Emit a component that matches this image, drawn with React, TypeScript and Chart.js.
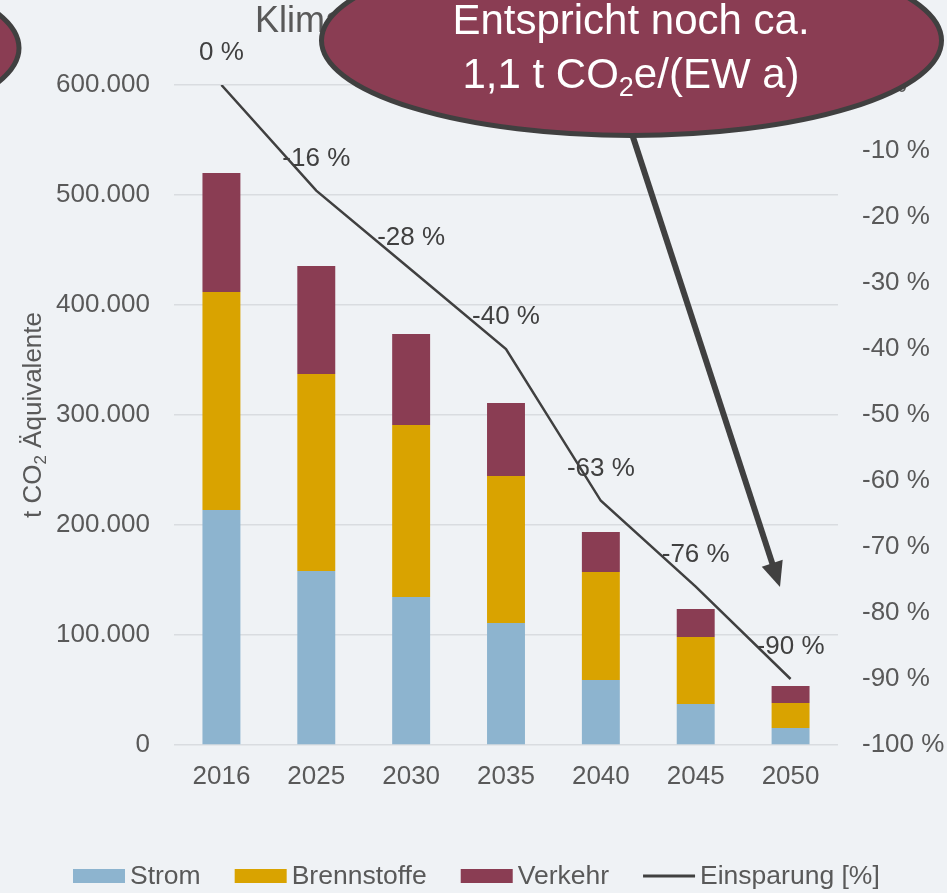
import React, { useEffect, useRef } from "react";
import { Chart, registerables } from "chart.js";

Chart.register(...registerables);

// ---- data ----
const categories = ["2016", "2025", "2030", "2035", "2040", "2045", "2050"];
const strom = [213600, 158200, 134500, 110900, 59100, 37300, 15500];
const brennstoffe = [198200, 179100, 156400, 133600, 98200, 60900, 22700];
const verkehr = [108200, 98200, 82700, 66400, 36300, 25400, 15400];
const einsparung = [0, -16, -28, -40, -63, -76, -90];
const leftAxis = { min: 0, max: 600000, step: 100000 };
const rightAxis = { min: -100, max: 0, step: 10 };
const titleText = "Klimaschutzszenario – Emissionen";
const calloutLine1 = "Entspricht noch ca.";
const calloutLine2 = [
  { t: "1,1 t CO" },
  { t: "2", sub: true },
  { t: "e/(EW a)" },
];
const yTitle = [{ t: "t CO" }, { t: "2", sub: true }, { t: " Äquivalente" }];
const legendNames = ["Strom", "Brennstoffe", "Verkehr", "Einsparung [%]"];

// ---- styles ----
const FONT = '"Liberation Sans", Arial, sans-serif';
const BG = "#EFF2F5";
const C_STROM = "#8DB4CF";
const C_BRENN = "#D9A300";
const C_VERK = "#8A3D53";
const C_LINE = "#404040";
const C_TEXT = "#595959";

type Part = { t: string; sub?: boolean };

function drawRich(
  ctx: CanvasRenderingContext2D,
  parts: Part[],
  x: number,
  y: number,
  size: number,
  align: "left" | "center"
) {
  const subSize = Math.round(size * 0.65);
  const widths = parts.map((p) => {
    ctx.font = `${p.sub ? subSize : size}px ${FONT}`;
    return ctx.measureText(p.t).width;
  });
  const total = widths.reduce((a, b) => a + b, 0);
  let cx = align === "center" ? x - total / 2 : x;
  ctx.textAlign = "left";
  ctx.textBaseline = "alphabetic";
  parts.forEach((p, i) => {
    ctx.font = `${p.sub ? subSize : size}px ${FONT}`;
    ctx.fillText(p.t, cx, p.sub ? y + size * 0.2 : y);
    cx += widths[i];
  });
}

function fmtThousands(v: number) {
  return String(v).replace(/\B(?=(\d{3})+(?!\d))/g, ".");
}

const decorPlugin = {
  id: "decor",
  beforeDraw(chart: any) {
    const ctx = chart.ctx as CanvasRenderingContext2D;
    ctx.save();
    ctx.fillStyle = BG;
    ctx.fillRect(0, 0, chart.width, chart.height);
    // title
    ctx.fillStyle = C_TEXT;
    ctx.font = `36px ${FONT}`;
    ctx.textAlign = "left";
    ctx.textBaseline = "alphabetic";
    ctx.fillText(titleText, 255, 32);
    // y-axis title
    ctx.translate(41, (chart.chartArea.top + chart.chartArea.bottom) / 2);
    ctx.rotate(-Math.PI / 2);
    ctx.fillStyle = C_TEXT;
    drawRich(ctx, yTitle, 0, 0, 26, "center");
    ctx.restore();
  },
  afterDatasetsDraw(chart: any) {
    const ctx = chart.ctx as CanvasRenderingContext2D;
    const meta = chart.getDatasetMeta(3);
    ctx.save();
    ctx.fillStyle = C_LINE;
    ctx.font = `26px ${FONT}`;
    ctx.textAlign = "center";
    ctx.textBaseline = "middle";
    meta.data.forEach((p: any, i: number) => {
      ctx.fillText(`${einsparung[i]} %`, p.x, p.y - 32);
    });
    ctx.restore();
  },
  afterDraw(chart: any) {
    const ctx = chart.ctx as CanvasRenderingContext2D;
    ctx.save();
    // legend
    const items = [
      { name: legendNames[0], color: C_STROM, line: false },
      { name: legendNames[1], color: C_BRENN, line: false },
      { name: legendNames[2], color: C_VERK, line: false },
      { name: legendNames[3], color: C_LINE, line: true },
    ];
    ctx.font = `26.5px ${FONT}`;
    const boxW = 52;
    const gapText = 5;
    const gapItem = 34;
    const widths = items.map((it) => boxW + gapText + ctx.measureText(it.name).width);
    let lx = 73;
    const ly = 876;
    items.forEach((it, i) => {
      if (it.line) {
        ctx.strokeStyle = it.color;
        ctx.lineWidth = 3;
        ctx.beginPath();
        ctx.moveTo(lx, ly);
        ctx.lineTo(lx + boxW, ly);
        ctx.stroke();
      } else {
        ctx.fillStyle = it.color;
        ctx.fillRect(lx, ly - 7, boxW, 14);
      }
      ctx.fillStyle = C_TEXT;
      ctx.textAlign = "left";
      ctx.textBaseline = "middle";
      ctx.fillText(it.name, lx + boxW + gapText, ly + 1);
      lx += widths[i] + gapItem;
    });

    // callouts
    const ell = (cx: number, cy: number) => {
      ctx.beginPath();
      ctx.ellipse(cx, cy, 310, 95, 0, 0, Math.PI * 2);
      ctx.fillStyle = C_VERK;
      ctx.fill();
      ctx.lineWidth = 5;
      ctx.strokeStyle = C_LINE;
      ctx.stroke();
    };
    ell(-291, 48);
    ell(631.5, 40.5);

    // arrow
    const sx = 632, sy = 134, tx = 780, ty = 587;
    const dx = tx - sx, dy = ty - sy;
    const len = Math.hypot(dx, dy);
    const ux = dx / len, uy = dy / len;
    const bx = tx - ux * 25, by = ty - uy * 25;
    const nx = -uy, ny = ux;
    ctx.strokeStyle = C_LINE;
    ctx.lineWidth = 6;
    ctx.beginPath();
    ctx.moveTo(sx, sy);
    ctx.lineTo(bx + ux * 2, by + uy * 2);
    ctx.stroke();
    ctx.fillStyle = C_LINE;
    ctx.beginPath();
    ctx.moveTo(tx, ty);
    ctx.lineTo(bx + nx * 11, by + ny * 11);
    ctx.lineTo(bx - nx * 11, by - ny * 11);
    ctx.closePath();
    ctx.fill();

    // callout text
    ctx.fillStyle = "#FFFFFF";
    ctx.font = `42px ${FONT}`;
    ctx.textAlign = "center";
    ctx.textBaseline = "alphabetic";
    ctx.fillText(calloutLine1, 631, 34);
    drawRich(ctx, calloutLine2, 631, 88, 42, "center");
    ctx.restore();
  },
};

export default function App() {
  const ref = useRef<HTMLCanvasElement | null>(null);
  useEffect(() => {
    if (!ref.current) return;
    const chart = new Chart(ref.current, {
      type: "bar",
      data: {
        labels: categories,
        datasets: [
          {
            type: "bar",
            label: legendNames[0],
            data: strom,
            backgroundColor: C_STROM,
            yAxisID: "y",
            order: 1,
            barPercentage: 0.4,
            categoryPercentage: 1,
          },
          {
            type: "bar",
            label: legendNames[1],
            data: brennstoffe,
            backgroundColor: C_BRENN,
            yAxisID: "y",
            order: 1,
            barPercentage: 0.4,
            categoryPercentage: 1,
          },
          {
            type: "bar",
            label: legendNames[2],
            data: verkehr,
            backgroundColor: C_VERK,
            yAxisID: "y",
            order: 1,
            barPercentage: 0.4,
            categoryPercentage: 1,
          },
          {
            type: "line",
            label: legendNames[3],
            data: einsparung,
            borderColor: C_LINE,
            borderWidth: 2.5,
            pointRadius: 0,
            tension: 0,
            yAxisID: "y1",
            order: 0,
          } as any,
        ],
      },
      options: {
        animation: false,
        responsive: true,
        maintainAspectRatio: false,
        layout: { padding: { top: 85, bottom: 0, left: 0, right: 0 } },
        plugins: {
          legend: { display: false },
          title: { display: false },
          tooltip: { enabled: false },
        },
        scales: {
          x: {
            stacked: true,
            grid: { display: false, drawTicks: false },
            border: { display: false },
            ticks: { color: C_TEXT, font: { family: FONT, size: 26 }, padding: 16 },
            afterFit: (s: any) => {
              s.height = 148;
            },
          },
          y: {
            stacked: true,
            position: "left",
            min: leftAxis.min,
            max: leftAxis.max,
            grid: { color: "#D9DCE0", lineWidth: 1.5, drawTicks: false },
            border: { display: false },
            ticks: {
              stepSize: leftAxis.step,
              color: C_TEXT,
              font: { family: FONT, size: 26 },
              padding: 24,
              callback: (v: any) => fmtThousands(Number(v)),
            },
            afterFit: (s: any) => {
              s.width = 174;
            },
          },
          y1: {
            position: "right",
            min: rightAxis.min,
            max: rightAxis.max,
            grid: { display: false, drawTicks: false },
            border: { display: false },
            ticks: {
              stepSize: rightAxis.step,
              color: C_TEXT,
              font: { family: FONT, size: 26 },
              padding: 24,
              callback: (v: any) => `${v} %`,
            },
            afterFit: (s: any) => {
              s.width = 109;
            },
          },
        },
      },
      plugins: [decorPlugin],
    });
    return () => chart.destroy();
  }, []);

  return (
    <div
      style={{
        position: "fixed",
        left: 0,
        top: 0,
        width: 947,
        height: 893,
        background: BG,
      }}
    >
      <canvas ref={ref} />
    </div>
  );
}
